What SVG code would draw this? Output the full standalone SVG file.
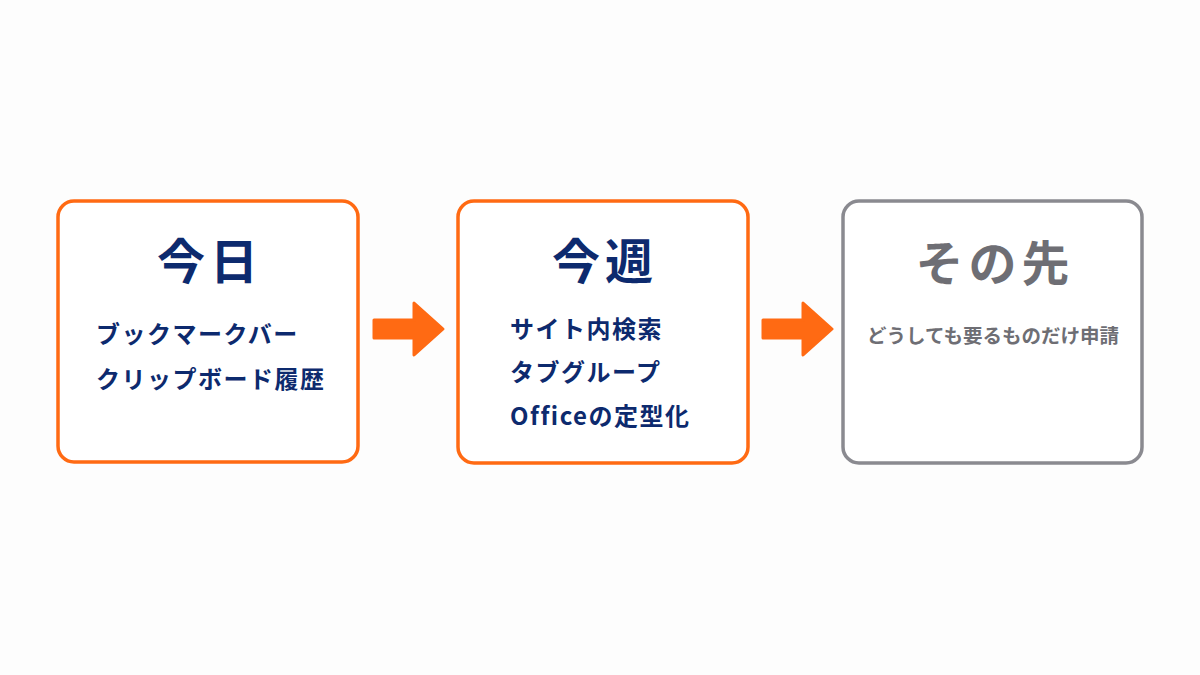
<svg xmlns="http://www.w3.org/2000/svg" width="1200" height="675" viewBox="0 0 1200 675">
<style>
text{font-family:"Noto Sans CJK JP","Noto Sans",sans-serif;font-weight:700}
.box{fill:#fff;stroke-width:3.5}
.o{stroke:#ff6a13}.g{stroke:#8a8a90}
.t{font-size:48px;fill:#0d2a6e;text-anchor:middle;letter-spacing:5px}
.i{font-size:24px;fill:#0d2a6e;letter-spacing:1.5px}
.arr{fill:#ff6a13}
</style>
<rect width="1200" height="675" fill="#fdfdfd"/>
<g id="today"><rect class="box o" x="58" y="201" width="300" height="261" rx="16"/>
<text class="t" x="210" y="279">今日</text>
<text class="i" x="96" y="343">ブックマークバー</text>
<text class="i" x="96" y="388">クリップボード履歴</text></g>
<g id="week"><rect class="box o" x="458" y="201" width="290" height="262" rx="16"/>
<text class="t" x="605" y="279">今週</text>
<text class="i" x="510" y="338">サイト内検索</text>
<text class="i" x="510" y="381">タブグループ</text>
<text class="i" x="510" y="425">Officeの定型化</text></g>
<g id="future"><rect class="box g" x="843" y="201" width="299" height="262" rx="16"/>
<text class="t" x="995" y="281" style="fill:#6e6e74">その先</text>
<text x="993" y="343" text-anchor="middle" style="font-size:19.5px;fill:#6e6e74">どうしても要るものだけ申請</text></g>
<g id="connectors">
<path class="arr" d="M374 320 H414 V303 L443 329 L414 355 V338 H374 Z" stroke="#ff6a13" stroke-width="3" stroke-linejoin="round"/>
<path class="arr" d="M763 320 H803 V303 L832 329 L803 355 V338 H763 Z" stroke="#ff6a13" stroke-width="3" stroke-linejoin="round"/>
</g>
</svg>
